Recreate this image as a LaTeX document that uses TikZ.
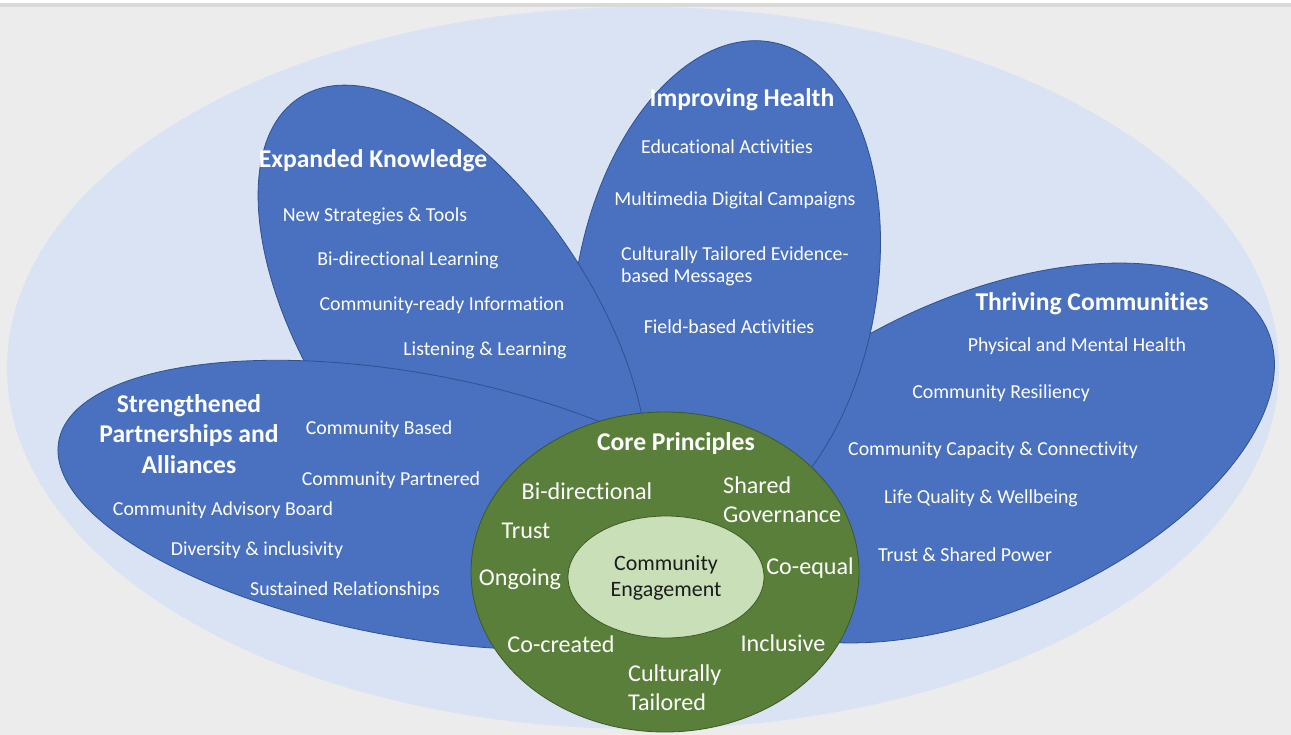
\documentclass[tikz,border=0pt]{standalone}
\usepackage{fontspec}
\setmainfont{Carlito}[RawFeature=-liga]
\usepackage{tikz}
\usetikzlibrary{shapes}
\definecolor{bggray}{HTML}{ECECEC}
\definecolor{bandgray}{HTML}{D9D9D9}
\definecolor{lightblue}{HTML}{DAE3F3}
\definecolor{petalblue}{HTML}{4A70C0}
\definecolor{petalline}{HTML}{2F528F}
\definecolor{coregreen}{HTML}{5A7F3A}
\definecolor{coreline}{HTML}{3D5A26}
\definecolor{innergreen}{HTML}{C9DFB8}
\definecolor{innertext}{HTML}{1C1C1C}

\begin{document}
\begin{tikzpicture}[x=1bp,y=-1bp,
  petal/.style={ellipse,draw=petalline,fill=petalblue,line width=0.8bp,inner sep=0pt},
  head/.style={text=white,font=\bfseries\fontsize{25.7}{30.5}\selectfont,align=center,inner sep=0pt},
  item/.style={text=white,font=\fontsize{19.9}{22}\selectfont,inner sep=0pt},
  core/.style={text=white,font=\fontsize{24.2}{29.5}\selectfont,align=center,inner sep=0pt}]

\useasboundingbox (0,0) rectangle (1291,735);
\fill[bggray] (0,0) rectangle (1291,735);
\fill[white] (0,0) rectangle (1291,3);
\fill[bandgray] (0,3) rectangle (1291,7);

\node (BG) at (643,368)[ellipse,fill=lightblue,inner sep=0pt,minimum width=1272bp,minimum height=722bp] {};

\node (TC) at (985,453)[petal,minimum width=616bp,minimum height=316bp,rotate=23.5] {};
\node (IH) at (726,290)[petal,minimum width=300bp,minimum height=504bp,rotate=-10.5] {};
\node (EK) at (453,333)[petal,minimum width=562bp,minimum height=286bp,rotate=-56.8] {};
\node (SP) at (410,505)[petal,minimum width=714bp,minimum height=264bp,rotate=-10.3] {};

\node (CP) at (665,572)[ellipse,draw=coreline,fill=coregreen,line width=0.8bp,inner sep=0pt,minimum width=388bp,minimum height=320bp] {};
\node (CE) at (666,577)[ellipse,draw=coreline,fill=innergreen,line width=0.8bp,inner sep=0pt,minimum width=196bp,minimum height=122bp] {};

\node (IHt) at (742,100)[head] {Improving Health};
\node (IH1) at (727,147)[item] {Educational Activities};
\node (IH2) at (735,200)[item] {Multimedia Digital Campaigns};
\node (IH3) at (621,266)[item,anchor=west,align=left] {Culturally Tailored Evidence-\\based Messages};
\node (IH4) at (729,327)[item] {Field-based Activities};

\node (EKt) at (373,161)[head] {Expanded Knowledge};
\node (EK1) at (375,216)[item] {New Strategies \& Tools};
\node (EK2) at (408,260)[item] {Bi-directional Learning};
\node (EK3) at (442,305)[item] {Community-ready Information};
\node (EK4) at (485,350)[item] {Listening \& Learning};

\node (SPt) at (189,434)[head] {Strengthened\\Partnerships and\\Alliances};
\node (SP1) at (379,429)[item] {Community Based};
\node (SP2) at (391,480)[item] {Community Partnered};
\node (SP3) at (223,510)[item] {Community Advisory Board};
\node (SP4) at (257,550)[item] {Diversity \& inclusivity};
\node (SP5) at (345,590)[item] {Sustained Relationships};

\node (TCt) at (1092,304)[head] {Thriving Communities};
\node (TC1) at (1077,346)[item] {Physical and Mental Health};
\node (TC2) at (1001,393)[item] {Community Resiliency};
\node (TC3) at (993,450)[item] {Community Capacity \& Connectivity};
\node (TC4) at (981,498)[item] {Life Quality \& Wellbeing};
\node (TC5) at (965,555)[item] {Trust \& Shared Power};

\node (CPt) at (676,444)[head,font=\bfseries\fontsize{25.7}{30}\selectfont] {Core Principles};
\node (CP1) at (587,491)[core] {Bi-directional};
\node (CP2) at (723,500)[core,anchor=west,align=left] {Shared\\Governance};
\node (CP3) at (526,531)[core] {Trust};
\node (CP4) at (520,579)[core] {Ongoing};
\node (CP5) at (810,568)[core] {Co-equal};
\node (CP6) at (561,644)[core] {Co-created};
\node (CP7) at (783,643)[core] {Inclusive};
\node (CP8) at (628,688)[core,anchor=west,align=left] {Culturally\\Tailored};
\node (CEt) at (666,578)[core,text=innertext,font=\fontsize{22}{26}\selectfont] {Community\\Engagement};
\end{tikzpicture}
\end{document}
